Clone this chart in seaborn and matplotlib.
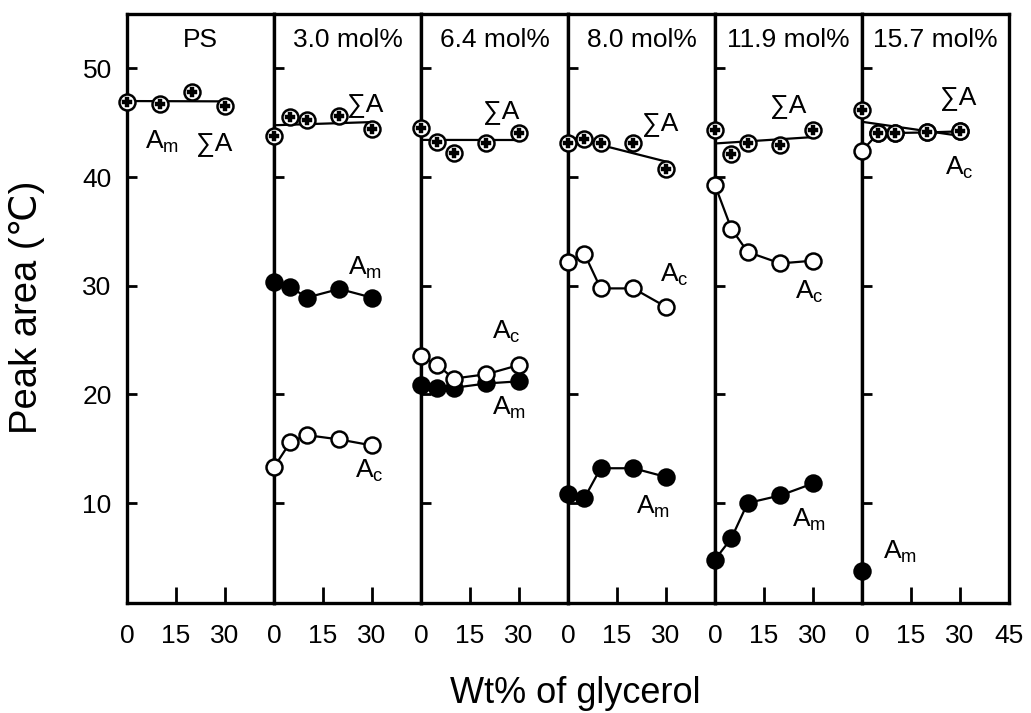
import matplotlib
matplotlib.use("Agg")
import matplotlib.pyplot as plt
import seaborn as sns
import numpy as np

# ---------------- data ----------------
panel_titles = ["PS", "3.0 mol%", "6.4 mol%", "8.0 mol%", "11.9 mol%", "15.7 mol%"]
glycerol_ps = [0, 10, 20, 30]
glycerol = [0, 5, 10, 20, 30]

sumA_ps = [46.9, 46.7, 47.8, 46.5]
sumA_30 = [43.75, 45.5, 45.2, 45.6, 44.4]
sumA_64 = [44.5, 43.2, 42.2, 43.1, 44.05]
sumA_80 = [43.13, 43.5, 43.13, 43.13, 40.7]
sumA_119 = [44.3, 42.1, 43.1, 42.9, 44.3]
sumA_157 = [46.2, 44.05, 44.05, 44.1, 44.2]

Am_30 = [30.3, 29.9, 28.9, 29.7, 28.9]
Am_64 = [20.9, 20.6, 20.6, 21.0, 21.2]
Am_80 = [10.8, 10.45, 13.2, 13.2, 12.4]
Am_119 = [4.8, 6.75, 10.0, 10.7, 11.8]
Am_157 = [3.7]
glycerol_am_157 = [0]

Ac_30 = [13.3, 15.6, 16.25, 15.85, 15.3]
Ac_64 = [23.5, 22.7, 21.45, 21.85, 22.7]
Ac_80 = [32.2, 32.95, 29.75, 29.75, 28.05]
Ac_119 = [39.25, 35.25, 33.1, 32.05, 32.3]
Ac_157 = [42.4, 44.05, 44.05, 44.1, 44.2]

x_ticks = [0, 15, 30]
x_ticks_last = [0, 15, 30, 45]
y_ticks = [10, 20, 30, 40, 50]

panels = [
    dict(sx=glycerol_ps, s=sumA_ps, am=None, amx=None, ac=None),
    dict(sx=glycerol, s=sumA_30, am=Am_30, amx=glycerol, ac=Ac_30),
    dict(sx=glycerol, s=sumA_64, am=Am_64, amx=glycerol, ac=Ac_64),
    dict(sx=glycerol, s=sumA_80, am=Am_80, amx=glycerol, ac=Ac_80),
    dict(sx=glycerol, s=sumA_119, am=Am_119, amx=glycerol, ac=Ac_119),
    dict(sx=glycerol, s=sumA_157, am=Am_157, amx=glycerol_am_157, ac=Ac_157),
]

# label placements (x, baseline y) in each panel's data coords
label_pos = [
    {"m": (5.6, 42.6), "s": (21.2, 42.45)},
    {"s": (22.3, 46.1), "m": (22.7, 31.0), "c": (24.8, 12.3)},
    {"s": (19.1, 45.4), "c": (21.6, 25.15), "m": (21.6, 18.1)},
    {"s": (22.8, 44.3), "c": (28.2, 30.35), "m": (20.7, 9.05)},
    {"s": (16.8, 46.0), "c": (24.4, 28.8), "m": (23.5, 7.8)},
    {"s": (24.0, 46.75), "c": (25.5, 40.2), "m": (6.3, 4.9)},
]

# ---------------- style ----------------
sns.set_style("ticks")
plt.rcParams["font.family"] = ["Liberation Sans", "DejaVu Sans"]
plt.rcParams["mathtext.default"] = "regular"
for key in ["text.color", "axes.labelcolor", "xtick.color", "ytick.color", "axes.edgecolor"]:
    plt.rcParams[key] = "black"

W, H = 1031, 713
fig = plt.figure(figsize=(W / 100, H / 100), dpi=100)
left, right, bottom, top = 127 / W, 1009 / W, 1 - 603 / H, 1 - 14 / H
pw = (right - left) / 6

spine_lw = 2.4
line_lw = 1.6
ms = 11.5
mew = 1.8

axes = []
for i in range(6):
    ax = fig.add_axes([left + i * pw, bottom, pw, top - bottom], sharey=axes[0] if axes else None)
    axes.append(ax)

for i, (ax, p) in enumerate(zip(axes, panels)):
    ax.set_xlim(0, 45)
    ax.set_ylim(0.8, 55)
    for sp in ax.spines.values():
        sp.set_visible(True)
        sp.set_linewidth(spine_lw)
        sp.set_color("black")
        sp.set_zorder(2.5)
    ax.set_xticks(x_ticks_last if i == 5 else x_ticks)
    ax.set_yticks(y_ticks)
    ax.tick_params(axis="x", direction="in", length=11.5, width=2.0, labelsize=19, pad=15,
                   colors="black")
    ax.tick_params(axis="y", direction="in", length=7, width=2.0, labelsize=19, pad=11,
                   colors="black")
    if i > 0:
        ax.tick_params(axis="y", labelleft=False)

    # Am (filled)
    if p["am"] is not None:
        sns.lineplot(x=p["amx"], y=p["am"], ax=ax, color="black", lw=line_lw,
                     marker="o", markersize=ms, markerfacecolor="black",
                     markeredgecolor="black", markeredgewidth=mew,
                     clip_on=False, zorder=4, legend=False)
    # Ac (open)
    if p["ac"] is not None:
        sns.lineplot(x=p["sx"], y=p["ac"], ax=ax, color="black", lw=line_lw,
                     marker="o", markersize=ms, markerfacecolor="white",
                     markeredgecolor="black", markeredgewidth=mew,
                     clip_on=False, zorder=5, legend=False)
    # Sum A: linear trend + crossed circles
    sns.regplot(x=np.array(p["sx"], float), y=np.array(p["s"], float), ax=ax,
                ci=None, scatter=False, color="black", truncate=True,
                line_kws=dict(lw=line_lw, zorder=6))
    ax.plot(p["sx"], p["s"], ls="none", marker="o", markersize=ms,
            markerfacecolor="white", markeredgecolor="black",
            markeredgewidth=mew, clip_on=False, zorder=7)
    ax.plot(p["sx"], p["s"], ls="none", marker="P", markersize=6.5,
            markerfacecolor="black", markeredgecolor="black",
            markeredgewidth=0.3, clip_on=False, zorder=8)
    ax.set_xlabel("")
    ax.set_ylabel("")
    ax.set_xlim(0, 45)

    ax.text(22.5, 52.6, panel_titles[i], ha="center", va="center", fontsize=19)

    lp = label_pos[i]
    txt = {"m": "A$_{m}$", "c": "A$_{c}$", "s": "\u2211A"}
    for k, (lx, ly) in lp.items():
        ax.text(lx, ly, txt[k], ha="left", va="baseline", fontsize=19)

fig.text(575 / W, 1 - 703 / H, "Wt% of glycerol", ha="center", va="baseline", fontsize=26)
fig.text(27 / W, 1 - 307 / H, "Peak area (\u2103)", ha="center", va="center",
         rotation=90, fontsize=27.5)

fig.savefig("out.png", dpi=100)
